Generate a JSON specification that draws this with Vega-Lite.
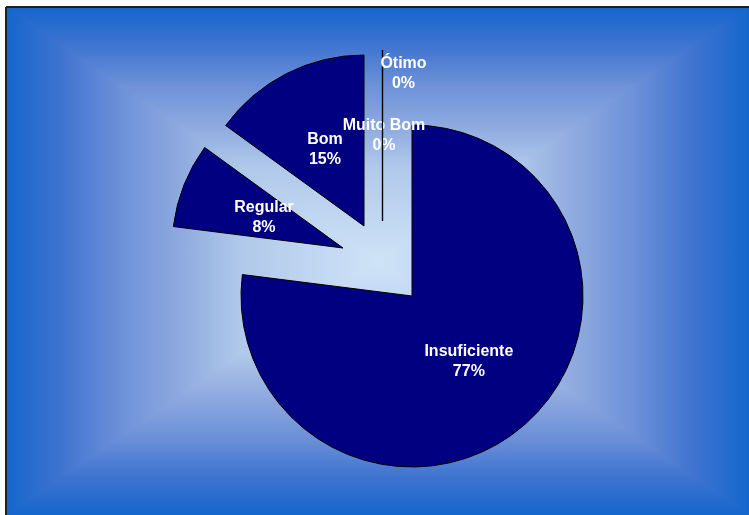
{
  "$schema": "https://vega.github.io/schema/vega-lite/v6.json",
  "width": 743,
  "height": 508,
  "autosize": {"type": "none"},
  "padding": {"left": 6, "top": 7, "right": 0, "bottom": 0},
  "background": "#ffffff",
  "view": {
    "fill": {
      "gradient": "linear",
      "x1": 0, "y1": 0, "x2": 1, "y2": 0,
      "stops": [
        {"offset": 0, "color": "#1466cc"},
        {"offset": 0.075, "color": "#3f74d0"},
        {"offset": 0.15, "color": "#6b8fd8"},
        {"offset": 0.235, "color": "#8eaadf"},
        {"offset": 0.315, "color": "#b0c8ea"},
        {"offset": 0.5, "color": "#cfe3f7"},
        {"offset": 0.685, "color": "#b0c8ea"},
        {"offset": 0.765, "color": "#8eaadf"},
        {"offset": 0.85, "color": "#6b8fd8"},
        {"offset": 0.925, "color": "#3f74d0"},
        {"offset": 1, "color": "#1466cc"}
      ]
    },
    "stroke": "#222222",
    "strokeWidth": 2,
    "strokeDash": [743, 1251, 508, 0]
  },
  "data": {
    "values": [
      {"category": "Insuficiente", "pct": 77},
      {"category": "Regular", "pct": 8},
      {"category": "Bom", "pct": 15},
      {"category": "Muito Bom", "pct": 0},
      {"category": "Ótimo", "pct": 0}
    ]
  },
  "transform": [
    {"window": [{"op": "sum", "field": "pct", "as": "end"}], "frame": [null, 0]},
    {"calculate": "datum.end - datum.pct", "as": "start"},
    {"calculate": "(datum.start + datum.end) / 2", "as": "mid"},
    {"calculate": "datum.category + '\\n' + datum.pct + '%'", "as": "label"}
  ],
  "layer": [
    {
      "data": {"values": [{}]},
      "mark": {
        "type": "rect",
        "blend": "darken",
        "fill": {
          "gradient": "linear",
          "x1": 0, "y1": 0, "x2": 0, "y2": 1,
          "stops": [
            {"offset": 0, "color": "#1466cc"},
            {"offset": 0.075, "color": "#3f74d0"},
            {"offset": 0.15, "color": "#6b8fd8"},
            {"offset": 0.235, "color": "#8eaadf"},
            {"offset": 0.315, "color": "#b0c8ea"},
            {"offset": 0.5, "color": "#cfe3f7"},
            {"offset": 0.685, "color": "#b0c8ea"},
            {"offset": 0.765, "color": "#8eaadf"},
            {"offset": 0.85, "color": "#6b8fd8"},
            {"offset": 0.925, "color": "#3f74d0"},
            {"offset": 1, "color": "#1466cc"}
          ]
        }
      },
      "encoding": {}
    },
    {
      "transform": [{"filter": "datum.category === 'Insuficiente'"}],
      "layer": [
        {
          "mark": {"type": "arc", "radius": 171, "xOffset": 34.5, "yOffset": 35, "fill": "#000080", "stroke": "#000000", "strokeWidth": 1},
          "encoding": {
            "theta": {"field": "start", "type": "quantitative", "stack": null, "scale": {"domain": [0, 100], "range": [0, 6.283185307179586]}},
            "theta2": {"field": "end"}
          }
        },
        {
          "mark": {"type": "text", "radius": 86, "xOffset": 34.5, "yOffset": 35, "dy": -10, "color": "#ffffff", "font": "Liberation Sans", "fontWeight": "bold", "fontSize": 16, "lineBreak": "\n", "lineHeight": 20, "align": "center", "baseline": "middle"},
          "encoding": {
            "theta": {"field": "mid", "type": "quantitative", "stack": null},
            "text": {"field": "label"}
          }
        }
      ]
    },
    {
      "transform": [{"filter": "datum.category === 'Regular'"}],
      "layer": [
        {
          "mark": {"type": "arc", "radius": 171, "xOffset": -34.5, "yOffset": -13, "fill": "#000080", "stroke": "#000000", "strokeWidth": 1},
          "encoding": {
            "theta": {"field": "start", "type": "quantitative", "stack": null},
            "theta2": {"field": "end"}
          }
        },
        {
          "mark": {"type": "text", "radius": 85, "xOffset": -34.5, "yOffset": -13, "dy": -10, "color": "#ffffff", "font": "Liberation Sans", "fontWeight": "bold", "fontSize": 16, "lineBreak": "\n", "lineHeight": 20, "align": "center", "baseline": "middle"},
          "encoding": {
            "theta": {"field": "mid", "type": "quantitative", "stack": null},
            "text": {"field": "label"}
          }
        }
      ]
    },
    {
      "transform": [{"filter": "datum.category === 'Bom'"}],
      "layer": [
        {
          "mark": {"type": "arc", "radius": 171, "xOffset": -13.5, "yOffset": -35, "fill": "#000080", "stroke": "#000000", "strokeWidth": 1},
          "encoding": {
            "theta": {"field": "start", "type": "quantitative", "stack": null},
            "theta2": {"field": "end"}
          }
        },
        {
          "mark": {"type": "text", "radius": 86, "xOffset": -13.5, "yOffset": -35, "dy": -10, "color": "#ffffff", "font": "Liberation Sans", "fontWeight": "bold", "fontSize": 16, "lineBreak": "\n", "lineHeight": 20, "align": "center", "baseline": "middle"},
          "encoding": {
            "theta": {"field": "mid", "type": "quantitative", "stack": null},
            "text": {"field": "label"}
          }
        }
      ]
    },
    {
      "transform": [{"filter": "datum.category === 'Muito Bom'"}],
      "layer": [
        {
          "mark": {"type": "arc", "radius": 171, "xOffset": 5, "yOffset": -40, "fill": "#000080", "stroke": "#000000", "strokeWidth": 1.2},
          "encoding": {
            "theta": {"field": "start", "type": "quantitative", "stack": null},
            "theta2": {"field": "end"}
          }
        },
        {
          "mark": {"type": "text", "radius": 86, "xOffset": 6.5, "yOffset": -40, "dy": -10, "color": "#ffffff", "font": "Liberation Sans", "fontWeight": "bold", "fontSize": 16, "lineBreak": "\n", "lineHeight": 20, "align": "center", "baseline": "middle"},
          "encoding": {
            "theta": {"field": "mid", "type": "quantitative", "stack": null},
            "text": {"field": "label"}
          }
        }
      ]
    },
    {
      "transform": [{"filter": "datum.category === 'Ótimo'"}],
      "layer": [
        {
          "mark": {"type": "arc", "radius": 171, "xOffset": 5, "yOffset": -40, "fill": "#000080", "stroke": "#000000", "strokeWidth": 1.2},
          "encoding": {
            "theta": {"field": "start", "type": "quantitative", "stack": null},
            "theta2": {"field": "end"}
          }
        },
        {
          "mark": {"type": "text", "radius": 148, "xOffset": 26, "yOffset": -40, "dy": -10, "color": "#ffffff", "font": "Liberation Sans", "fontWeight": "bold", "fontSize": 16, "lineBreak": "\n", "lineHeight": 20, "align": "center", "baseline": "middle"},
          "encoding": {
            "theta": {"field": "mid", "type": "quantitative", "stack": null},
            "text": {"field": "label"}
          }
        }
      ]
    }
  ]
}
